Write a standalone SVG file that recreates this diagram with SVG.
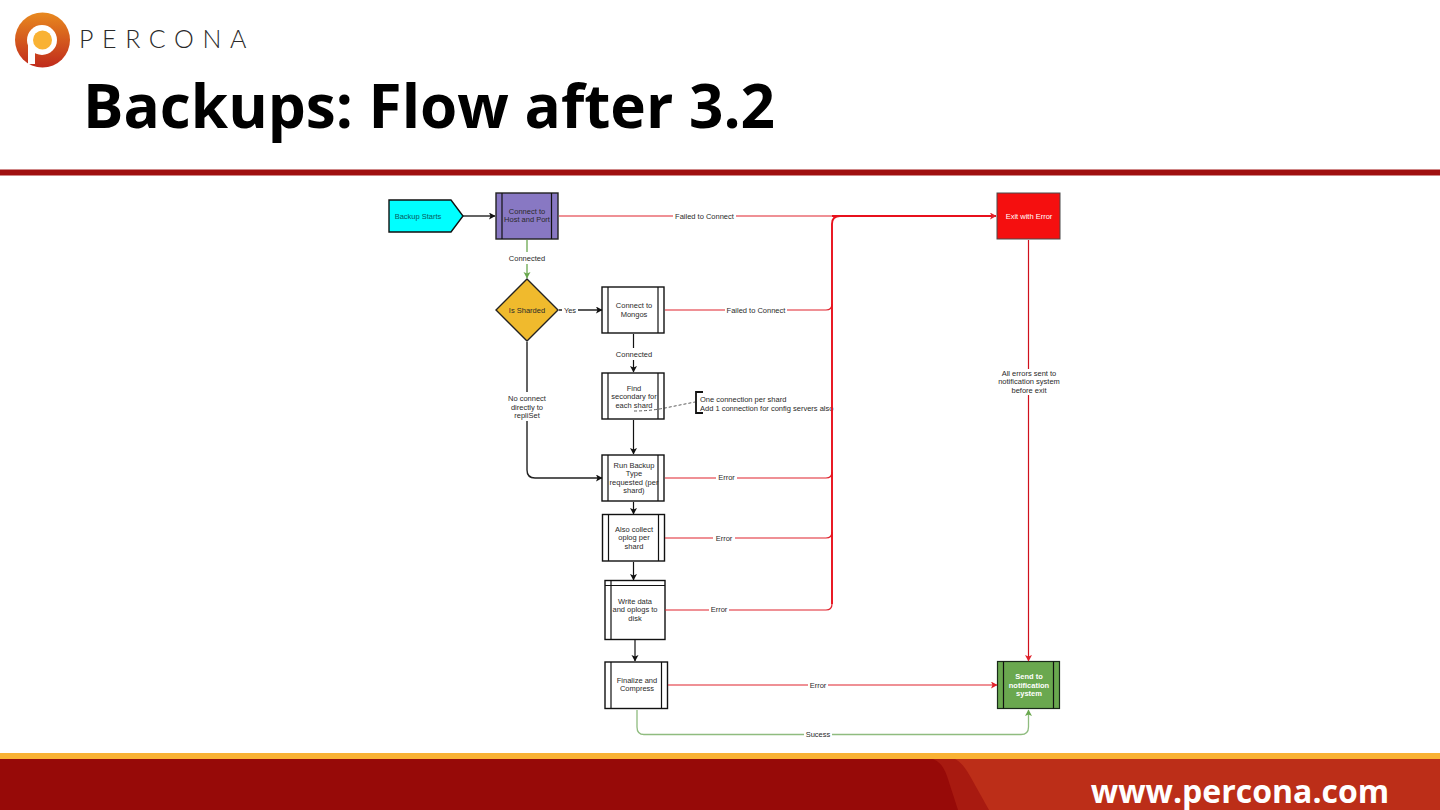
<svg xmlns="http://www.w3.org/2000/svg" width="1440" height="810" viewBox="0 0 1440 810">
<style>
text{font-family:"Liberation Sans",Arial,sans-serif;font-size:7.500px;fill:#2a2a2a;text-anchor:middle}
.n{fill:#fff;stroke:#111;stroke-width:1.4}
.d{fill:none;stroke:#111;stroke-width:1.2}
.c{fill:none;stroke:#222;stroke-width:1.4}
.r{fill:none;stroke:#e0222c;stroke-width:1.2}
.rb{fill:none;stroke:#e8101c;stroke-width:1.9}
.g{fill:none;stroke:#8fbc7f;stroke-width:1.3}
.lb{fill:#fff;stroke:none}
</style>
<defs>
<linearGradient id="lg" x1="0" y1="0" x2="0" y2="1"><stop offset="0" stop-color="#e8891f"/><stop offset="1" stop-color="#c02a1c"/></linearGradient>
<marker id="ak" markerWidth="8" markerHeight="8" refX="6" refY="3.5" orient="auto" markerUnits="userSpaceOnUse"><path d="M0 0L6.500 3.500L0 7L1.500 3.500Z" fill="#111"/></marker>
<marker id="ar" markerWidth="8" markerHeight="8" refX="6" refY="3.5" orient="auto" markerUnits="userSpaceOnUse"><path d="M0 0L6.500 3.500L0 7L1.500 3.500Z" fill="#e0222c"/></marker>
<marker id="ag" markerWidth="8" markerHeight="8" refX="6" refY="3.5" orient="auto" markerUnits="userSpaceOnUse"><path d="M0 0L6.500 3.500L0 7L1.500 3.500Z" fill="#6aa84f"/></marker>
</defs>
<rect width="1440" height="810" fill="#fff"/>
<g id="logo">
<circle cx="42.500" cy="40" r="27.500" fill="url(#lg)"/>
<circle cx="42" cy="40" r="15" fill="#fff"/>
<rect x="28" y="40" width="7" height="24" fill="#fff"/>
<circle cx="42.500" cy="40" r="9.500" fill="#f9b233"/>
<text x="79" y="48" style="font-family:Lato,sans-serif;font-size:25px;font-weight:300;letter-spacing:8.600px;text-anchor:start;fill:#2a2a2a">PERCONA</text>
</g>
<text x="83" y="128" style="font-family:'Open Sans',sans-serif;font-size:60px;font-weight:700;text-anchor:start;fill:#000" textLength="692" lengthAdjust="spacingAndGlyphs">Backups: Flow after 3.2</text>
<rect x="0" y="169.500" width="1440" height="6" fill="#a01010"/>
<rect x="0" y="753" width="1440" height="6" fill="#f9b233"/>
<rect x="0" y="759" width="1440" height="51" fill="#bc2e18"/>
<path d="M0 759H955Q962 762 970 776L989 810H0Z" fill="#a81a10"/>
<path d="M0 759H933Q942 762 947 776L958 810H0Z" fill="#970a08"/>
<text x="1240" y="803" style="font-family:'Open Sans',sans-serif;font-size:32px;font-weight:700;fill:#fff">www.percona.com</text>

<g id="backup-starts"><path d="M389 200H451L463 216L451 232H389Z" fill="#00ffff" stroke="#111" stroke-width="1.400"/><text x="418" y="218.500" style="fill:#0a5a60">Backup Starts</text></g>
<g id="connect-host"><rect x="496" y="193" width="62" height="46" fill="#8878c3" stroke="#222" stroke-width="1.400"/><path class="d" d="M502 193V239M551.500 193V239"/><text x="527" y="214">Connect to</text><text x="527" y="222">Host and Port</text></g>
<g id="is-sharded"><path d="M527 279L558 310L527 341L496 310Z" fill="#f0ba2d" stroke="#222" stroke-width="1.400"/><text x="527" y="312.500">Is Sharded</text></g>
<g id="connect-mongos"><rect class="n" x="602" y="287" width="62" height="46"/><path class="d" d="M608 287V333M658 287V333"/><text x="634" y="308">Connect to</text><text x="634" y="316.500">Mongos</text></g>
<g id="find-secondary"><rect class="n" x="602" y="373" width="62" height="46"/><path class="d" d="M608 373V419M658 373V419"/><text x="634" y="391">Find</text><text x="634" y="399">secondary for</text><text x="634" y="407.500">each shard</text></g>
<g id="note"><text x="700" y="402" style="text-anchor:start">One connection per shard</text><text x="700" y="411" style="text-anchor:start">Add 1 connection for config servers also</text></g>
<g id="run-backup"><rect class="n" x="602" y="455" width="62" height="46"/><path class="d" d="M608 455V501M658 455V501"/><text x="634" y="468">Run Backup</text><text x="634" y="476">Type</text><text x="634" y="485">requested (per</text><text x="634" y="493">shard)</text></g>
<g id="collect-oplog"><rect class="n" x="602.500" y="514.500" width="62" height="46.500"/><path class="d" d="M608.500 514.500V561M658.500 514.500V561"/><text x="634" y="532">Also collect</text><text x="634" y="540">oplog per</text><text x="634" y="549">shard</text></g>
<g id="write-data"><rect class="n" x="605" y="580.500" width="60" height="59"/><path class="d" d="M605 585.500H665M611 580.500V639.500"/><text x="635" y="604">Write data</text><text x="635" y="612">and oplogs to</text><text x="635" y="621">disk</text></g>
<g id="finalize"><rect class="n" x="605" y="662" width="62.500" height="46.500"/><path class="d" d="M611 662V708.500M661.500 662V708.500"/><text x="637" y="683">Finalize and</text><text x="637" y="691">Compress</text></g>
<g id="exit-error"><rect x="997" y="193" width="63" height="46" fill="#f50f0f" stroke="#4a4a4a" stroke-width="1"/><text x="1029" y="218.500" style="fill:#fff">Exit with Error</text></g>
<g id="notify"><rect x="997.500" y="661.500" width="62" height="47" fill="#6aa84f" stroke="#1a2a1a" stroke-width="1.200"/><path class="d" d="M1003.500 661.500V708.500M1053.500 661.500V708.500"/><text x="1029" y="679" style="fill:#fff;font-weight:700">Send to</text><text x="1029" y="688" style="fill:#fff;font-weight:700">notification</text><text x="1029" y="696" style="fill:#fff;font-weight:700">system</text></g>

<g id="connectors">
<path class="c" d="M463 216H495" marker-end="url(#ak)"/>
<path class="r" d="M559 216H832"/>
<path class="g" d="M527 240V278" style="stroke:#6aa84f" marker-end="url(#ag)"/>
<rect class="lb" x="507" y="252" width="40" height="12"/>
<text x="527" y="261">Connected</text>
<path class="c" d="M559 310H602" marker-end="url(#ak)"/>
<rect class="lb" x="562" y="304" width="16" height="12"/>
<text x="570" y="312.500">Yes</text>
<path class="d" d="M633.500 334V372" marker-end="url(#ak)"/>
<rect class="lb" x="614" y="348" width="40" height="12"/>
<text x="634" y="357">Connected</text>
<path class="d" d="M633.500 420V454" marker-end="url(#ak)"/>
<path class="c" d="M527 342V470Q527 478 535 478H602" marker-end="url(#ak)"/>
<rect class="lb" x="505" y="392" width="44" height="29"/>
<text x="527" y="401">No connect</text><text x="527" y="410">directly to</text><text x="527" y="418">repliSet</text>
<path class="d" d="M633.500 502V514" marker-end="url(#ak)"/>
<path class="d" d="M633.500 562V580" marker-end="url(#ak)"/>
<path class="d" d="M635 640V661" marker-end="url(#ak)"/>
<path d="M634 411Q650 411 665 408L695 402" fill="none" stroke="#333" stroke-width="0.800" stroke-dasharray="3 2"/>
<path d="M703 392H696V413H703" fill="none" stroke="#111" stroke-width="1.800"/>
<path class="rb" d="M832 216H996" marker-end="url(#ar)"/>
<path class="r" d="M665 310H826Q832 310 832 304"/>
<path class="r" d="M665 478H826Q832 478 832 472"/>
<path class="r" d="M665 538H826Q832 538 832 532"/>
<path class="r" d="M665 610H826Q832 610 832 604"/>
<path class="rb" d="M832 604V224Q832 216 840 216"/>
<rect class="lb" x="673" y="210" width="63" height="12"/><text x="704.500" y="218.500">Failed to Connect</text>
<rect class="lb" x="725" y="304" width="62" height="12"/><text x="756" y="312.500">Failed to Connect</text>
<rect class="lb" x="716" y="472" width="21" height="12"/><text x="726.500" y="480">Error</text>
<rect class="lb" x="713" y="532" width="22" height="12"/><text x="724" y="540.500">Error</text>
<rect class="lb" x="709" y="604" width="20" height="12"/><text x="719" y="612">Error</text>
<path class="r" d="M668 685H997" marker-end="url(#ar)"/>
<rect class="lb" x="808" y="679" width="20" height="12"/><text x="818" y="687.500">Error</text>
<path class="r" d="M1028.500 240V661" style="stroke:#d0101c" marker-end="url(#ar)"/>
<rect class="lb" x="998" y="369" width="62" height="26"/>
<text x="1029" y="376">All errors sent to</text><text x="1029" y="384">notification system</text><text x="1029" y="392.500">before exit</text>
<path class="g" d="M637 710V727Q637 734.500 644 734.500H1021Q1028.500 734.500 1028.500 727V710" marker-end="url(#ag)"/>
<rect class="lb" x="804" y="728" width="28" height="12"/><text x="818" y="737">Sucess</text>
</g>
</svg>
